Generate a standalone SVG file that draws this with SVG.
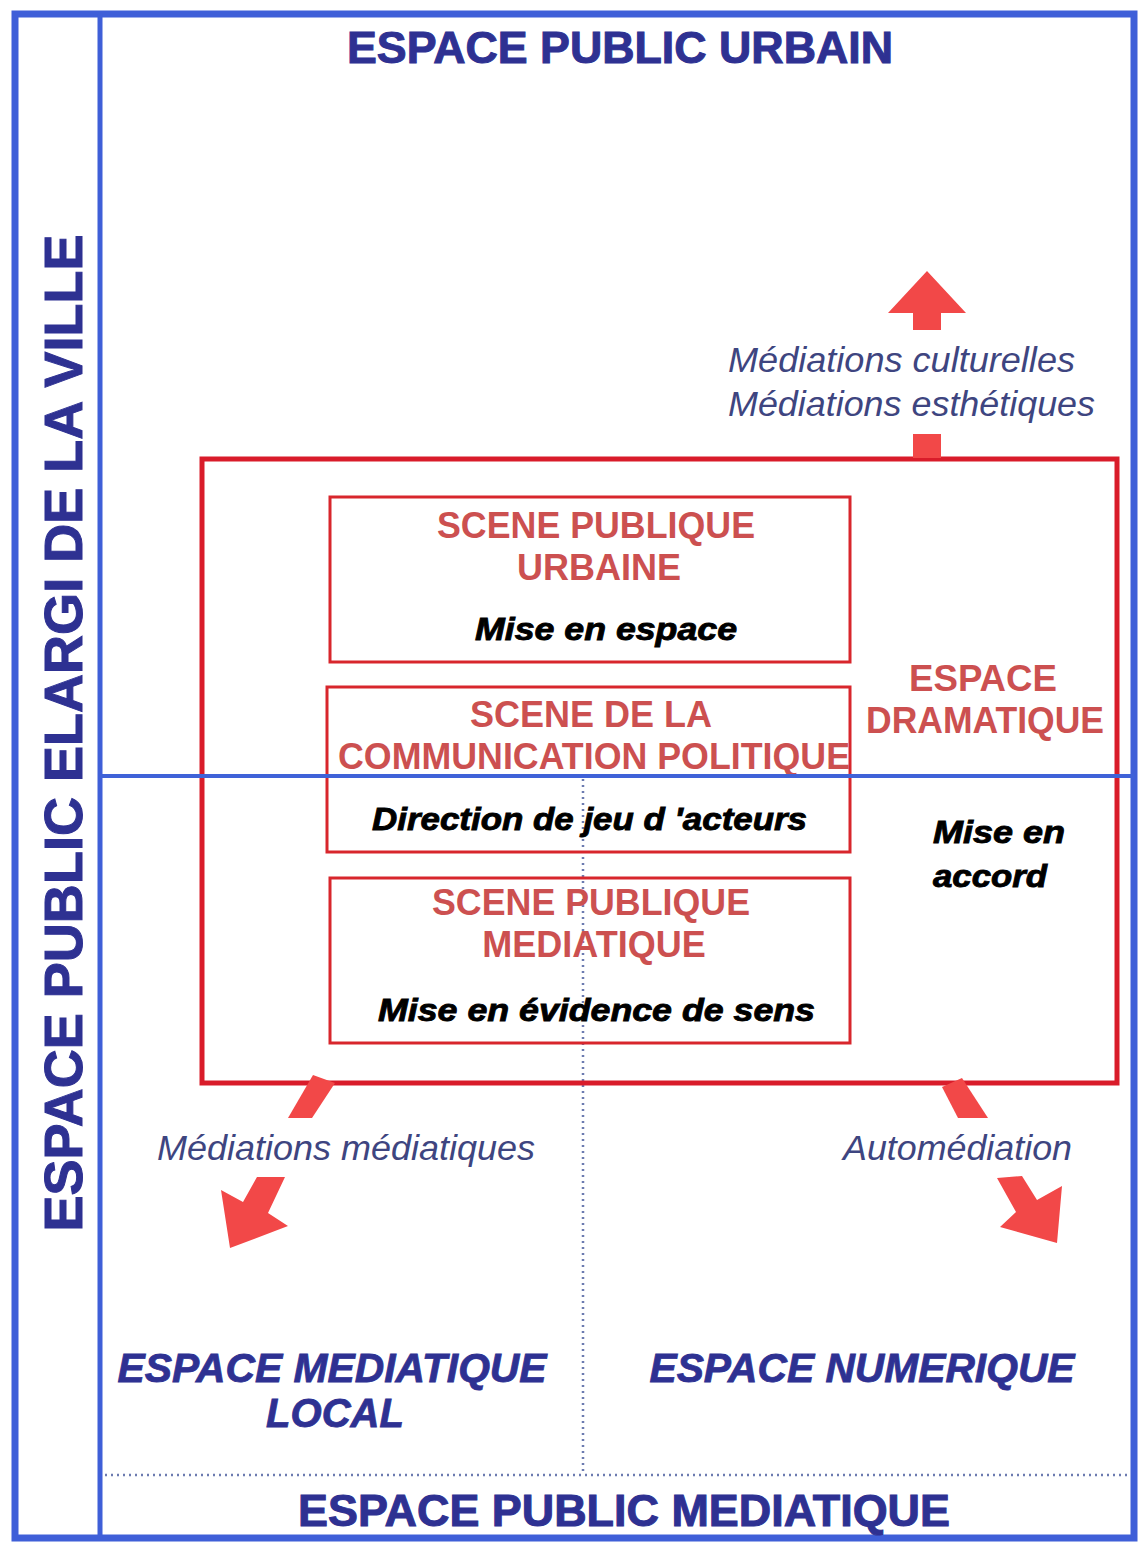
<svg xmlns="http://www.w3.org/2000/svg" width="1139" height="1542" viewBox="0 0 1139 1542">
<style>
.frame{fill:none;stroke:#3f5fd8;stroke-width:7}
.bline{stroke:#3f5fd8;stroke-width:5;fill:none}
.hline{stroke:#3f62d8;stroke-width:4;fill:none}
.dot{stroke:#6c7bb0;stroke-width:2.5;stroke-dasharray:2 4;fill:none}
.big{fill:none;stroke:#d91c2a;stroke-width:5}
.box{fill:none;stroke:#d8262c;stroke-width:3}
.arr{fill:#f24848;stroke:none}
.ttl{font-family:"Liberation Sans",Arial,sans-serif;font-weight:bold;fill:#2e3192;stroke:#2e3192;stroke-width:1;text-anchor:middle}
.sub{font-family:"Liberation Sans",Arial,sans-serif;font-weight:bold;font-style:italic;fill:#2e3192;stroke:#2e3192;stroke-width:0.8;text-anchor:middle;font-size:40px}
.red{font-family:"Liberation Sans",Arial,sans-serif;font-weight:bold;fill:#cc5050;text-anchor:middle;font-size:36px}
.blk{font-family:"Liberation Sans",Arial,sans-serif;font-weight:bold;font-style:italic;fill:#000;stroke:#000;stroke-width:0.9;font-size:32px}
.med{font-family:"Liberation Sans",Arial,sans-serif;font-style:italic;fill:#3e4580;font-size:35px}
</style>
<rect width="1139" height="1542" fill="#ffffff"/>
<g id="frame">
<rect class="frame" x="15" y="14" width="1119" height="1524"/>
<line class="bline" x1="100" y1="14" x2="100" y2="1538"/>
</g>
<g id="grid">
<line class="dot" x1="583" y1="779" x2="583" y2="1475"/>
<line class="dot" x1="105" y1="1475" x2="1131" y2="1475"/>
</g>
<g id="espace-dramatique">
<rect class="big" x="202" y="459" width="915" height="624"/>
<text class="red" x="983" y="691" textLength="148" lengthAdjust="spacingAndGlyphs">ESPACE</text>
<text class="red" x="985" y="733" textLength="238" lengthAdjust="spacingAndGlyphs">DRAMATIQUE</text>
<text class="blk" x="933" y="843" textLength="132" lengthAdjust="spacingAndGlyphs">Mise en</text>
<text class="blk" x="933" y="887" textLength="114" lengthAdjust="spacingAndGlyphs">accord</text>
</g>
<g id="scene-urbaine">
<rect class="box" x="330" y="497" width="520" height="165"/>
<text class="red" x="596" y="538" textLength="318" lengthAdjust="spacingAndGlyphs">SCENE PUBLIQUE</text>
<text class="red" x="599" y="580">URBAINE</text>
<text class="blk" x="475" y="640" textLength="262" lengthAdjust="spacingAndGlyphs">Mise en espace</text>
</g>
<g id="scene-politique">
<rect class="box" x="327" y="687" width="523" height="165"/>
<text class="red" x="591" y="727">SCENE DE LA</text>
<text class="red" x="594" y="769" textLength="512" lengthAdjust="spacingAndGlyphs">COMMUNICATION POLITIQUE</text>
<text class="blk" x="372" y="830" textLength="435" lengthAdjust="spacingAndGlyphs">Direction de jeu d 'acteurs</text>
</g>
<g id="scene-mediatique">
<rect class="box" x="330" y="878" width="520" height="165"/>
<text class="red" x="591" y="915" textLength="318" lengthAdjust="spacingAndGlyphs">SCENE PUBLIQUE</text>
<text class="red" x="594" y="957">MEDIATIQUE</text>
<text class="blk" x="378" y="1021" textLength="437" lengthAdjust="spacingAndGlyphs">Mise en évidence de sens</text>
</g>
<g id="axis">
<line class="hline" x1="100" y1="776" x2="1134" y2="776"/>
</g>
<g id="labels">
<text class="ttl" x="620" y="63" font-size="44" textLength="546" lengthAdjust="spacingAndGlyphs">ESPACE PUBLIC URBAIN</text>
<text class="ttl" font-size="54" transform="translate(82,733) rotate(-90)" textLength="997" lengthAdjust="spacingAndGlyphs">ESPACE PUBLIC ELARGI DE LA VILLE</text>
<text class="ttl" x="624" y="1526" font-size="44" textLength="652" lengthAdjust="spacingAndGlyphs">ESPACE PUBLIC MEDIATIQUE</text>
<text class="sub" x="332" y="1382" textLength="429" lengthAdjust="spacingAndGlyphs">ESPACE MEDIATIQUE</text>
<text class="sub" x="335" y="1427">LOCAL</text>
<text class="sub" x="862" y="1382" textLength="425" lengthAdjust="spacingAndGlyphs">ESPACE NUMERIQUE</text>
<text class="med" x="728" y="372" textLength="347" lengthAdjust="spacingAndGlyphs">Médiations culturelles</text>
<text class="med" x="728" y="416" textLength="367" lengthAdjust="spacingAndGlyphs">Médiations esthétiques</text>
<text class="med" x="157" y="1160" textLength="378" lengthAdjust="spacingAndGlyphs">Médiations médiatiques</text>
<text class="med" x="843" y="1160" textLength="229" lengthAdjust="spacingAndGlyphs">Automédiation</text>
</g>
<g id="connectors">
<polygon class="arr" points="927,271 966,313 941,313 941,330 913,330 913,313 888,313"/>
<rect class="arr" x="913" y="434" width="28" height="24"/>
<polygon class="arr" points="313,1075 335,1083 312,1118 288,1118"/>
<polygon class="arr" points="257,1177 285,1177 268,1213 288,1226 230,1248 221,1190 243,1202"/>
<polygon class="arr" points="942,1087 962,1078 988,1118 958,1118"/>
<polygon class="arr" points="997,1178 1022,1176 1037,1200 1062,1186 1057,1243 1000,1227 1016,1212"/>
</g>
</svg>
